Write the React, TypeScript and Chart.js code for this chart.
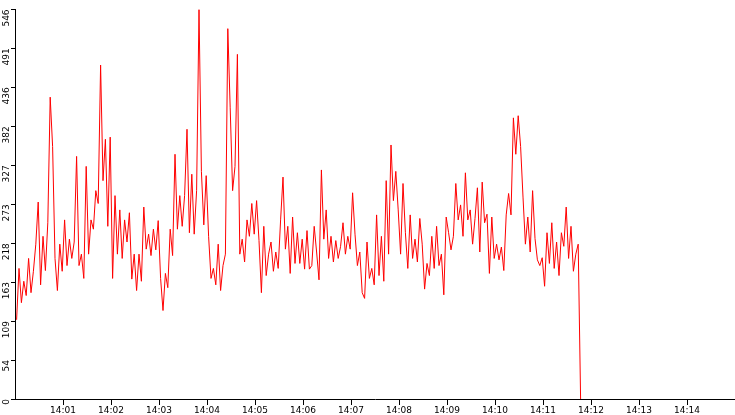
import Chart from "chart.js/auto";
import { useEffect, useRef } from "react";

// seconds after 14:00:00, one sample every few seconds
const startSec = 2;
const stepSec = 3;

const values: number[] = [
  111, 183, 135, 165, 145, 197, 149, 179, 217, 276,
  160, 228, 180, 247, 423, 354, 197, 152, 217, 179,
  251, 187, 224, 197, 220, 340, 187, 203, 169, 326,
  203, 251, 238, 292, 274, 468, 306, 364, 242, 367,
  169, 285, 203, 265, 197, 251, 220, 261, 168, 203,
  152, 203, 165, 269, 210, 231, 201, 238, 209, 250,
  169, 124, 176, 156, 238, 201, 343, 238, 285, 242,
  285, 378, 233, 315, 231, 292, 546, 319, 244, 313,
  228, 169, 183, 160, 217, 152, 187, 203, 519, 408,
  292, 326, 483, 203, 224, 192, 251, 228, 274, 231,
  278, 222, 149, 242, 173, 203, 220, 179, 206, 183,
  251, 311, 210, 242, 176, 255, 190, 233, 190, 224,
  182, 236, 182, 187, 242, 206, 167, 321, 224, 265,
  197, 228, 192, 222, 197, 214, 247, 203, 228, 210,
  289, 231, 187, 206, 149, 141, 220, 169, 183, 160,
  258, 173, 228, 165, 306, 203, 356, 278, 319, 265,
  203, 302, 233, 183, 258, 197, 224, 192, 253, 217,
  154, 190, 173, 228, 183, 242, 187, 203, 146, 255,
  233, 209, 228, 302, 251, 272, 228, 317, 251, 265,
  217, 253, 296, 206, 304, 247, 259, 176, 255, 197,
  217, 195, 213, 180, 258, 288, 258, 394, 343, 397,
  354, 283, 217, 255, 206, 292, 225, 195, 187, 198,
  158, 233, 190, 247, 183, 220, 173, 233, 214, 269,
  197, 242, 179, 203, 217, 0,
];

const xTickLabels = [
  "14:01", "14:02", "14:03", "14:04", "14:05", "14:06", "14:07",
  "14:08", "14:09", "14:10", "14:11", "14:12", "14:13", "14:14",
];

const yTickLabels = ["0", "54", "109", "163", "218", "273", "327", "382", "436", "491", "546"];
const yMax = 546;
const xMax = 900;

const font = { family: "'DejaVu Sans', sans-serif", size: 9 };

function RateChart() {
  const chartRef = useRef<HTMLCanvasElement | null>(null);
  const chartInstance = useRef<Chart | null>(null);

  useEffect(() => {
    if (!chartRef.current) return;
    const ctx = chartRef.current.getContext("2d");
    if (!ctx) return;

    if (chartInstance.current) {
      chartInstance.current.destroy();
    }

    const points = values.map((v, i) => ({ x: startSec + i * stepSec, y: v }));

    chartInstance.current = new Chart(ctx, {
      type: "line",
      data: {
        datasets: [
          {
            data: points,
            borderColor: "#ff0000",
            borderWidth: 1,
            pointRadius: 0,
            tension: 0,
            fill: false,
          },
        ],
      },
      options: {
        animation: false,
        responsive: false,
        devicePixelRatio: 1,
        events: [],
        layout: { padding: 0, autoPadding: false },
        plugins: {
          legend: { display: false },
          tooltip: { enabled: false },
        },
        scales: {
          x: {
            type: "linear",
            min: 0,
            max: xMax,
            afterBuildTicks: (scale) => {
              scale.ticks = xTickLabels.map((_, i) => ({ value: 60 * (i + 1) }));
            },
            afterFit: (scale) => {
              scale.height = 16;
            },
            grid: {
              drawOnChartArea: false,
              drawTicks: true,
              tickLength: 6,
              color: "#000",
              tickColor: "#000",
            },
            border: { display: true, color: "#000", width: 1 },
            ticks: {
              autoSkip: false,
              maxRotation: 0,
              minRotation: 0,
              padding: 0,
              color: "#000",
              font,
              callback: (_v, i) => xTickLabels[i],
            },
          },
          y: {
            min: 0,
            max: yMax,
            afterBuildTicks: (scale) => {
              scale.ticks = yTickLabels.map((_, i) => ({
                value: (yMax * i) / (yTickLabels.length - 1),
              }));
            },
            afterFit: (scale) => {
              scale.width = 15;
            },
            grid: {
              drawOnChartArea: false,
              drawTicks: true,
              tickLength: 4,
              color: "#000",
              tickColor: "#000",
            },
            border: { display: true, color: "#000", width: 1 },
            ticks: {
              autoSkip: false,
              minRotation: 90,
              maxRotation: 90,
              padding: 4,
              color: "#000",
              font,
              callback: (_v, i) => yTickLabels[i],
            },
          },
        },
      },
    });

    return () => {
      if (chartInstance.current) {
        chartInstance.current.destroy();
        chartInstance.current = null;
      }
    };
  }, []);

  return <canvas ref={chartRef} width={735} height={415} style={{ display: "block" }} />;
}

export default function App() {
  return (
    <div style={{ position: "absolute", left: 0, top: 0, width: 735, height: 415, background: "#fff" }}>
      <RateChart />
    </div>
  );
}
